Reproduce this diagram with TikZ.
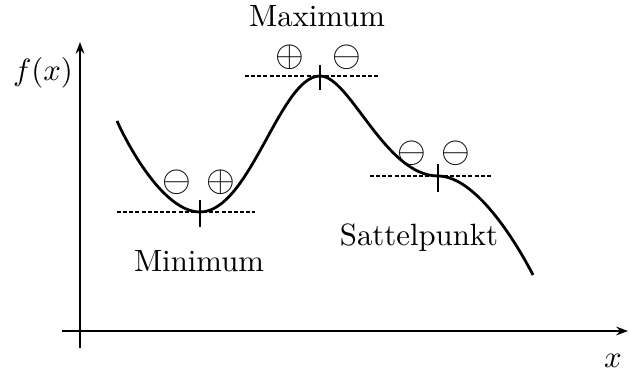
\documentclass[tikz,border=0pt]{standalone}
\usetikzlibrary{arrows.meta}
\begin{document}
\begin{tikzpicture}[x=0.325pt,y=-0.325pt,
  axis/.style={line width=0.65pt,-{Stealth[length=3.8pt,width=2.8pt]}},
  curve/.style={line width=0.9pt},
  tangent/.style={line width=0.45pt,dash pattern=on 1.3pt off 0.7pt},
  tickmark/.style={line width=0.55pt},
  lbl/.style={inner sep=0pt,anchor=base,font=\fontsize{10}{12}\selectfont},
  sym/.style={inner sep=0pt,font=\fontsize{13.2}{15}\selectfont}]
\useasboundingbox (0,0) rectangle (629,374);
% axes
\coordinate (yb) at (80,348); \coordinate (yt) at (80,42);
\coordinate (xl) at (62,331); \coordinate (xr) at (628,331);
\draw[axis] (yb) -- (yt);
\draw[axis] (xl) -- (xr);
\node[inner sep=0pt,font=\fontsize{10}{12}\selectfont] (fx) at (43,73) {$f(x)$};
\node[lbl] (xlab) at (613,368) {$x$};
% curve
\coordinate (c0) at (117,121);
\coordinate (cmin) at (200,212);
\coordinate (cmax) at (320,76);
\coordinate (csad) at (438,176);
\coordinate (cend) at (533,275);
\draw[curve] (c0) .. controls (130,150) and (165,212) .. (cmin)
  .. controls (250,212) and (280,76) .. (cmax)
  .. controls (350,76) and (385,176) .. (csad)
  .. controls (475,176) and (515,240) .. (cend);
% tangents
\coordinate (t1a) at (117,212); \coordinate (t1b) at (255,212);
\coordinate (t2a) at (245,76);  \coordinate (t2b) at (378,76);
\coordinate (t3a) at (370,176); \coordinate (t3b) at (491,176);
\draw[tangent] (t1a) -- (t1b);
\draw[tangent] (t2a) -- (t2b);
\draw[tangent] (t3a) -- (t3b);
% ticks
\coordinate (k1a) at (200,200); \coordinate (k1b) at (200,227);
\coordinate (k2a) at (320,65);  \coordinate (k2b) at (320,90);
\coordinate (k3a) at (438,164); \coordinate (k3b) at (438,192);
\draw[tickmark] (k1a) -- (k1b);
\draw[tickmark] (k2a) -- (k2b);
\draw[tickmark] (k3a) -- (k3b);
% signs
\node[sym] (s1) at (177,182) {$\ominus$};
\node[sym] (s2) at (221,182) {$\oplus$};
\node[sym] (s3) at (290,57) {$\oplus$};
\node[sym] (s4) at (347,57) {$\ominus$};
\node[sym] (s5) at (412,153) {$\ominus$};
\node[sym] (s6) at (456,153) {$\ominus$};
% labels
\node[lbl] (lmax) at (317,27) {Maximum};
\node[lbl] (lmin) at (199,272) {Minimum};
\node[lbl] (lsad) at (419,246) {Sattelpunkt};
\end{tikzpicture}
\end{document}
